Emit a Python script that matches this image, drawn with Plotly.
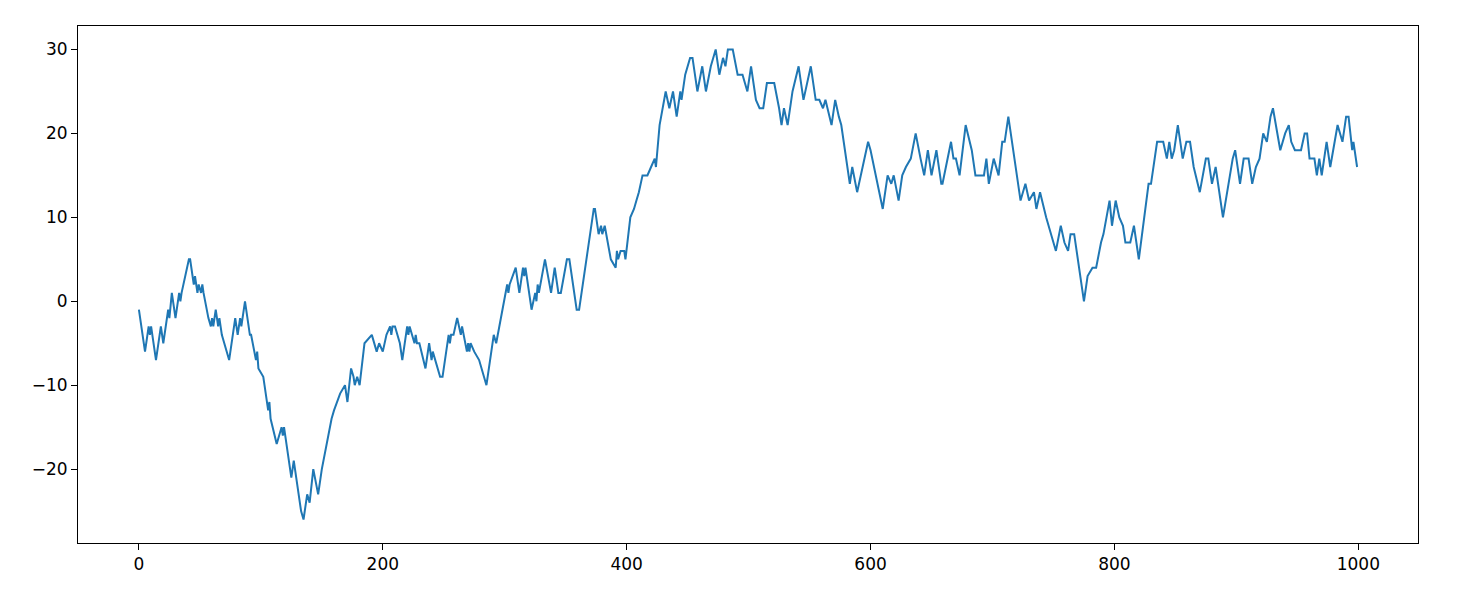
import plotly.graph_objects as go

# Turning points of the random walk (step index, value)
steps = [0, 5, 8, 9, 10, 14, 18, 20, 24, 25, 27, 30, 33, 34, 35, 41, 42, 45, 46, 48, 49, 51, 52, 53,
         57, 59, 60, 61, 63, 65, 66, 68, 74, 79, 81, 83, 84, 87, 91, 92, 96, 97, 98, 102, 103, 106, 107, 108,
         113, 117, 118, 119, 125, 127, 128, 133, 135, 138, 140, 143, 147, 150, 158, 160, 165, 169, 171, 174,
         176, 177, 179, 181, 185, 191, 195, 197, 200, 203, 206, 207, 208, 210, 214, 216, 220, 221, 222, 226,
         227, 228, 230, 235, 238, 240, 241, 243, 247, 249, 254, 255, 256, 258, 261, 264, 265, 269, 270, 271,
         272, 275, 279, 285, 290, 291, 293, 297, 302, 303, 304, 309, 312, 315, 316, 317, 318, 322, 325, 326,
         327, 328, 333, 338, 341, 344, 346, 351, 353, 359, 361, 373, 374, 377, 379, 380, 382, 386, 387, 391,
         392, 393, 395, 398, 399, 403, 406, 408, 410, 413, 417, 420, 423, 424, 427, 432, 435, 438, 441, 444,
         445, 448, 452, 454, 458, 462, 465, 469, 473, 476, 479, 481, 483, 487, 491, 495, 499, 502, 506, 509,
         512, 515, 521, 525, 527, 529, 532, 536, 541, 545, 548, 551, 555, 558, 561, 563, 568, 571, 574, 576,
         583, 585, 589, 592, 594, 598, 600, 607, 610, 614, 617, 619, 623, 626, 629, 633, 637, 641, 644, 647,
         650, 654, 658, 659, 663, 666, 668, 670, 673, 678, 683, 686, 693, 695, 697, 701, 705, 708, 710, 713,
         723, 727, 730, 734, 736, 739, 744, 748, 752, 756, 759, 762, 764, 767, 775, 778, 782, 785, 789, 791,
         796, 798, 801, 804, 807, 809, 813, 816, 820, 828, 830, 835, 840, 843, 845, 847, 849, 852, 856, 859,
         862, 865, 870, 875, 877, 880, 883, 889, 897, 899, 903, 906, 910, 913, 916, 919, 922, 925, 928, 930,
         936, 940, 943, 945, 948, 953, 956, 958, 960, 964, 966, 968, 970, 974, 977, 983, 987, 990, 992, 995,
         996, 999]

values = [-1, -6, -3, -4, -3, -7, -3, -5, -1, -2, 1, -2, 1, 0, 1, 5, 5, 2, 3, 1, 2, 1, 2, 1,
          -2, -3, -2, -3, -1, -3, -2, -4, -7, -2, -4, -2, -3, 0, -4, -4, -7, -6, -8, -9, -10, -13, -12, -14,
          -17, -15, -16, -15, -21, -19, -20, -25, -26, -23, -24, -20, -23, -20, -14, -13, -11, -10, -12, -8,
          -9, -10, -9, -10, -5, -4, -6, -5, -6, -4, -3, -4, -3, -3, -5, -7, -3, -4, -3, -5,
          -4, -5, -5, -8, -5, -7, -6, -7, -9, -9, -4, -5, -4, -4, -2, -4, -3, -6, -5, -6,
          -5, -6, -7, -10, -5, -4, -5, -2, 2, 1, 2, 4, 1, 4, 3, 4, 3, -1, 1, 0,
          2, 1, 5, 1, 4, 1, 1, 5, 5, -1, -1, 11, 11, 8, 9, 8, 9, 6, 5, 4,
          6, 5, 6, 6, 5, 10, 11, 12, 13, 15, 15, 16, 17, 16, 21, 25, 23, 25, 22, 25,
          24, 27, 29, 29, 25, 28, 25, 28, 30, 27, 29, 28, 30, 30, 27, 27, 25, 28, 24, 23,
          23, 26, 26, 23, 21, 23, 21, 25, 28, 24, 26, 28, 24, 24, 23, 24, 21, 24, 22, 21,
          14, 16, 13, 15, 16, 19, 18, 13, 11, 15, 14, 15, 12, 15, 16, 17, 20, 17, 15, 18,
          15, 18, 14, 14, 17, 19, 17, 17, 15, 21, 18, 15, 15, 17, 14, 17, 15, 19, 19, 22,
          12, 14, 12, 13, 11, 13, 10, 8, 6, 9, 7, 6, 8, 8, 0, 3, 4, 4, 7, 8,
          12, 9, 12, 10, 9, 7, 7, 9, 5, 14, 14, 19, 19, 17, 19, 17, 18, 21, 17, 19,
          19, 16, 13, 17, 17, 14, 16, 10, 17, 18, 14, 17, 17, 14, 16, 17, 20, 19, 22, 23,
          18, 20, 21, 19, 18, 18, 20, 20, 17, 17, 15, 17, 15, 19, 16, 21, 19, 22, 22, 18,
          19, 16]

x_ticks = [0, 200, 400, 600, 800, 1000]
y_ticks = [-20, -10, 0, 10, 20, 30]

fig = go.Figure()
fig.add_trace(go.Scatter(x=steps, y=values, mode="lines",
                         line=dict(color="#1f77b4", width=2), showlegend=False))

axis_common = dict(showline=True, linecolor="black", linewidth=1, mirror=True,
                   ticks="outside", ticklen=6, tickwidth=1, tickcolor="black",
                   showgrid=False, zeroline=False,
                   tickfont=dict(family="DejaVu Sans", size=17, color="black"))

fig.update_layout(
    width=1460, height=593,
    margin=dict(l=78, r=42, t=26, b=50),
    plot_bgcolor="white", paper_bgcolor="white",
    xaxis=dict(range=[-49.95, 1048.95], tickvals=x_ticks, **axis_common),
    yaxis=dict(range=[-28.8, 32.8], tickvals=y_ticks, **axis_common),
)

fig.write_html("out.html",
               config={"displayModeBar": False},
               post_script="document.body.style.margin='0';document.body.style.overflow='hidden';")
